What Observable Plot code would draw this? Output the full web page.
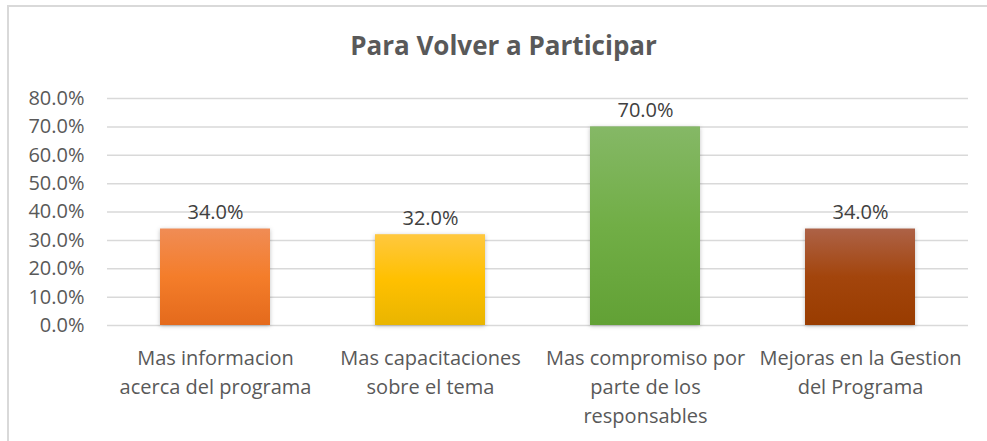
<!DOCTYPE html>
<html>
<head>
<meta charset="utf-8">
<script src="https://cdn.jsdelivr.net/npm/d3@7"></script>
<script src="https://cdn.jsdelivr.net/npm/@observablehq/plot@0.6"></script>
<style>
  html, body { margin: 0; padding: 0; background: #fff; overflow: hidden; width: 987px; height: 441px; }
  #wrap { position: relative; width: 987px; height: 441px; overflow: hidden; font-family: "Open Sans", sans-serif; background: #fff; }
  #hline { position: absolute; left: 7px; top: 5px; width: 980px; height: 2px; background: #d9d9d9; }
  #vline { position: absolute; left: 7px; top: 5px; width: 2px; height: 436px; background: #d9d9d9; }
  #title { position: absolute; left: 0; top: 0; width: 987px; height: 70px; text-align: center; font-weight: bold; font-size: 26px; color: #595959; line-height: 70px; padding-top: 10px; padding-left: 20px; box-sizing: border-box; }
  #chart { position: absolute; left: 0; top: 70px; }
</style>
</head>
<body>
<div id="wrap">
  <div id="hline"></div>
  <div id="vline"></div>
  <div id="title">Para Volver a Participar</div>
  <div id="chart"></div>
</div>
<script>
const categories = [
  "Mas informacion acerca del programa",
  "Mas capacitaciones sobre el tema",
  "Mas compromiso por parte de los responsables",
  "Mejoras en la Gestion del Programa"
];
const tickLabels = [
  "Mas informacion\nacerca del programa",
  "Mas capacitaciones\nsobre el tema",
  "Mas compromiso por\nparte de los\nresponsables",
  "Mejoras en la Gestion\ndel Programa"
];
const values = [0.34, 0.32, 0.70, 0.34];
const yTicks = [0, 0.1, 0.2, 0.3, 0.4, 0.5, 0.6, 0.7, 0.8];
const gradients = [
  ["#F08C55", "#F47D2A", "#E46A1C"],
  ["#FFC83F", "#FFC000", "#E9B500"],
  ["#85B866", "#71AE46", "#62A135"],
  ["#AD6247", "#A3450C", "#993C00"]
];

const data = categories.map((c, i) => ({cat: c, value: values[i], fill: `url(#grad${i})`}));
const labelOf = new Map(categories.map((c, i) => [c, tickLabels[i]]));
const pct = v => (v * 100).toFixed(1) + "%";

const plot = Plot.plot({
  width: 987,
  height: 371,
  marginTop: 28,
  marginBottom: 116,
  marginLeft: 107,
  marginRight: 19,
  style: {fontFamily: "Open Sans, sans-serif", fontSize: "20px", color: "#595959", background: "transparent"},
  x: {domain: categories, paddingInner: 0.49, paddingOuter: 0.245, label: null},
  y: {domain: [0, 0.8], label: null},
  color: {type: "identity"},
  marks: [
    Plot.gridY(yTicks, {stroke: "#d9d9d9", strokeOpacity: 1, strokeWidth: 1.5}),
    Plot.axisY(yTicks, {tickSize: 0, tickPadding: 23, tickFormat: pct, fill: "#595959", fontSize: 20, label: null}),
    Plot.axisX({tickSize: 0, tickPadding: 19, tickFormat: d => labelOf.get(d), lineHeight: 1.45, fill: "#595959", fontSize: 20, label: null}),
    Plot.barY(data, {x: "cat", y: "value", fill: "fill"}),
    Plot.text(data, {x: "cat", y: "value", text: d => pct(d.value), lineAnchor: "bottom", dy: -10, fill: "#404040", fontSize: 20})
  ]
});

const ns = "http://www.w3.org/2000/svg";
const defs = document.createElementNS(ns, "defs");
gradients.forEach((g, i) => {
  const lg = document.createElementNS(ns, "linearGradient");
  lg.setAttribute("id", `grad${i}`);
  lg.setAttribute("x1", "0"); lg.setAttribute("y1", "0");
  lg.setAttribute("x2", "0"); lg.setAttribute("y2", "1");
  [[0, g[0]], [0.5, g[1]], [1, g[2]]].forEach(([o, c]) => {
    const s = document.createElementNS(ns, "stop");
    s.setAttribute("offset", o);
    s.setAttribute("stop-color", c);
    lg.appendChild(s);
  });
  defs.appendChild(lg);
});
plot.insertBefore(defs, plot.firstChild);
plot.querySelectorAll('g[aria-label="bar"] rect').forEach(r => {
  r.style.filter = "drop-shadow(0px 1px 2px rgba(0,0,0,0.25))";
});
document.getElementById("chart").appendChild(plot);
</script>
</body>
</html>
